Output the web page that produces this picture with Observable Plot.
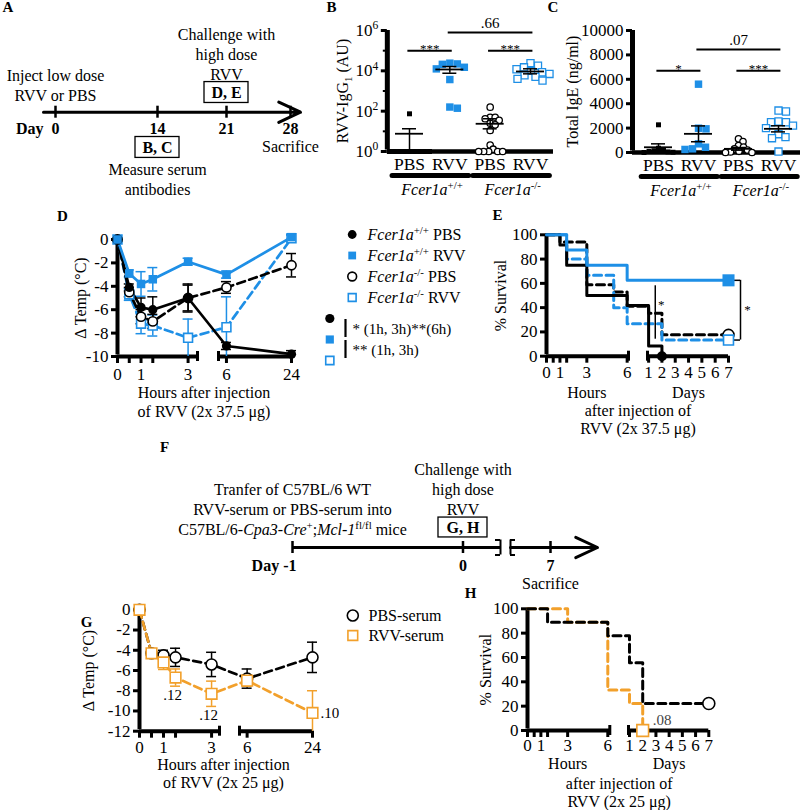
<!DOCTYPE html>
<html>
<head>
<meta charset="utf-8">
<script src="https://cdn.jsdelivr.net/npm/d3@7"></script>
<script src="https://cdn.jsdelivr.net/npm/@observablehq/plot@0.6"></script>
<style>
  html, body { margin: 0; padding: 0; background: #ffffff; }
  #fig { position: relative; width: 800px; height: 810px; overflow: hidden; background: #ffffff; }
</style>
</head>
<body>
<div id="fig"></div>
<script>
// ======================= DATA =======================
// A: experimental timeline (days)
const timelineADays = [0, 14, 21, 28];
const timelineANotes = [
  {day: 0, row: 1.36, text: "Inject low dose\nRVV or PBS"},
  {day: 21, row: 2.86, text: "Challenge with\nhigh dose\nRVV"},
  {day: 14, row: -3.25, text: "Measure serum\nantibodies"},
  {day: 28, row: -1.62, text: "Sacrifice"}
];
const timelineABoxes = [
  {day: 21, row: 0.96, text: "D, E"},
  {day: 14, row: -1.72, text: "B, C"}
];

// B, C: categories
const categories = ["PBS", "RVV", "PBS", "RVV"];
const genotypes = [
  {label: "~{Fcer1a}^{+/+}", from: 0, to: 1},
  {label: "~{Fcer1a}^{-/-}", from: 2, to: 3}
];
// B: RVV-IgG1 (AU)
const igg1WtPBS = [74, 1, 1, 1, 1, 1, 1, 1, 1, 1];
const igg1WtRVV = [24000, 22000, 21000, 15000, 12500, 3700, 160, 140];
const igg1KoPBS = [158, 50, 50, 42, 35, 25, 21, 11, 2.1, 1.3, 1, 1, 1, 1, 1];
const igg1KoRVV = [24000, 18000, 15000, 12000, 10000, 8500, 7000, 6000, 5000, 4000, 3300];
const igg1Mean = [7.6, 11700, 23.7, 9300];
const igg1Low = [1, 7600, 13.3, 7100];
const igg1High = [13.4, 16300, 42, 12600];
const igg1Tests = [
  {from: 0, to: 1, at: 1e5, label: "***"},
  {from: 2, to: 3, at: 1e5, label: "***"},
  {from: 1, to: 3, at: 8e5, label: ".66"}
];
const igg1Ticks = [1, 1e2, 1e4, 1e6];
const igg1MinorTicks = [1e1, 1e3, 1e5];

// C: Total IgE (ng/ml)
const igeWtPBS = [2270, 350, 250, 150, 100, 50, 20, 0];
const igeWtRVV = [5600, 1990, 1940, 710, 430, 300, 250];
const igeKoPBS = [1120, 900, 570, 450, 300, 200, 100, 50, 0, 0];
const igeKoRVV = [3440, 3360, 2540, 2480, 2480, 2200, 2000, 1500, 1260, 1170, 80];
const igeMean = [430, 1530, 300, 1940];
const igeSem = [280, 650, 110, 250];
const igeTests = [
  {from: 0, to: 1, at: 6700, label: "*"},
  {from: 2, to: 3, at: 6700, label: "***"},
  {from: 1, to: 3, at: 8450, label: ".07"}
];
const igeTicks = [0, 2000, 4000, 6000, 8000, 10000];

// D: temperature change (°C)
const hoursD = [0, 0.5, 1, 1.5, 3, 6, 24];
const tempWtPBS = [0, -4.1, -5.8, -6.0, -5.0, -9.1, -9.8];
const semWtPBS = [0, 0.3, 0.8, 1.1, 1.2, 0.3, 0.3];
const tempWtRVV = [0, -2.9, -3.8, -3.4, -1.9, -3.0, 0.2];
const semWtRVV = [0, 0.3, 1.05, 1.0, 0.3, 0.3, 0.2];
const tempKoPBS = [0, -4.5, -6.6, -7.0, -5.0, -4.1, -2.2];
const semKoPBS = [0, 0.4, 0.6, 0.6, 1.1, 0.5, 1.0];
const tempKoRVV = [0, -4.7, -7.2, -7.35, -8.4, -7.5, 0.1];
const semKoRVV = [0, 0.5, 0.85, 0.9, 1.6, 2.6, 0.3];
const hourTicks = [0, 0.5, 1, 1.5, 3, 6, 24];
const hourLabels = [0, 1, 3, 6, 24];
const tempTicksD = [0, -2, -4, -6, -8, -10];
const legendD = [
  {key: "wtPBS", label: "~{Fcer1a}^{+/+} PBS"},
  {key: "wtRVV", label: "~{Fcer1a}^{+/+} RVV"},
  {key: "koPBS", label: "~{Fcer1a}^{-/-} PBS"},
  {key: "koRVV", label: "~{Fcer1a}^{-/-} RVV"}
];
const comparisonsD = [
  {a: "wtPBS", b: "wtRVV", label: "* (1h, 3h)**(6h)"},
  {a: "wtRVV", b: "koRVV", label: "** (1h, 3h)"}
];

// E: survival (%, time in hours)
const survWtPBS = [[0, 100], [1, 91.7], [1.5, 75], [3, 50], [6, 41.7], [24, 8.3], [48, 0]];
const survWtRVV = [[0, 100], [1.5, 87.5], [3, 75], [6, 62.5], [168, 62.5]];
const survKoPBS = [[0, 100], [1, 94.1], [3, 58.8], [5, 52.9], [6, 41.2], [24, 35.3], [48, 17.6], [168, 17.6]];
const survKoRVV = [[0, 100], [1.5, 80], [3, 66.7], [5, 40], [6, 26.7], [48, 13.3], [168, 13.3]];
const survTestsE = [{t: 36, s1: 58, s2: 14, label: "*"}];
const survBracketE = [{t: 168, s1: 62.5, s2: 13.3, label: "*"}];
const survHourTicks = [0, 0.5, 1, 1.5, 3, 6];
const survHourLabels = [0, 1, 3, 6];
const survDayTicks = [1, 2, 3, 4, 5, 6, 7];
const survTicks = [0, 20, 40, 60, 80, 100];

// F: serum transfer timeline
const timelineFDays = [-1, 0, 7];
const timelineFNotes = [
  {day: -1, row: 1.92, text: "Tranfer of C57BL/6 WT\nRVV-serum or PBS-serum into\nC57BL/6-~{Cpa3-Cre}^{+};~{Mcl-1}^{fl/fl} mice"},
  {day: 0, row: 2.92, text: "Challenge with\nhigh dose\nRVV"},
  {day: 7, row: -1.72, text: "Sacrifice"}
];
const timelineFBoxes = [{day: 0, row: 0.985, text: "G, H"}];

// G: temperature after serum transfer
const hoursG = [0, 0.5, 1, 1.5, 3, 6, 24];
const tempPbsSerum = [0, -4.3, -4.5, -4.7, -5.4, -6.8, -4.7];
const semPbsSerum = [0, 0.3, 0.5, 0.9, 1.2, 0.95, 1.5];
const tempRvvSerum = [0, -4.3, -5.2, -6.7, -8.3, -7.0, -10.2];
const semRvvSerum = [0, 0.4, 0.7, 0.85, 1.25, 0.55, 2.2];
const tempTicksG = [0, -2, -4, -6, -8, -10, -12];
const pValuesG = [
  {h: 1.5, label: ".12", place: "below"},
  {h: 3, label: ".12", place: "below"},
  {h: 24, label: ".10", place: "right"}
];
const legendG = [
  {key: "pbsSerum", label: "PBS-serum"},
  {key: "rvvSerum", label: "RVV-serum"}
];

// H: survival after serum transfer
const survPbsSerum = [[0, 100], [1.5, 88.9], [6, 77.8], [24, 55.6], [48, 22.2], [168, 22.2]];
const survRvvSerum = [[0, 100], [3, 88.9], [6, 33.3], [24, 22.2], [48, 0]];
const pValuesH = [{key: "rvvSerum", label: ".08"}];

// ======================= STYLE =======================
const FONT = "'Liberation Serif', 'Times New Roman', Times, serif";
const BLUE = "#1e8fe6";
const ORANGE = "#f2a02b";
const DASH = "8,4.5";
const seriesStyle = {
  wtPBS: {color: "black", symbol: "circle", filled: true, dash: null},
  wtRVV: {color: BLUE, symbol: "square", filled: true, dash: null},
  koPBS: {color: "black", symbol: "circle", filled: false, dash: DASH},
  koRVV: {color: BLUE, symbol: "square", filled: false, dash: DASH},
  pbsSerum: {color: "black", symbol: "circle", filled: false, dash: DASH},
  rvvSerum: {color: ORANGE, symbol: "square", filled: false, dash: DASH}
};
function dotStyle(key, r) {
  const s = seriesStyle[key];
  return s.filled
    ? {symbol: s.symbol, r, fill: s.color, stroke: "none"}
    : {symbol: s.symbol, r, fill: "white", stroke: s.color, strokeWidth: 1.6};
}
const groupDotBC = [
  {dot: {symbol: "square", r: 2.8, fill: "black", stroke: "none"}, gap: 5},
  {dot: {symbol: "square", r: 4.2, fill: BLUE, stroke: "none"}, gap: 7.5},
  {dot: {symbol: "circle", r: 3.2, fill: "white", stroke: "black", strokeWidth: 1.3}, gap: 5},
  {dot: {symbol: "square", r: 4.0, fill: "white", stroke: BLUE, strokeWidth: 1.3}, gap: 7.5}
];

// ======================= HELPERS =======================
const fig = document.getElementById("fig");
const SVGNS = "http://www.w3.org/2000/svg";

// ~{..} italic, ^{..} superscript, _{..} subscript
function richify(root) {
  root.querySelectorAll("text, tspan").forEach(el => {
    if (el.childNodes.length !== 1 || el.firstChild.nodeType !== 3) return;
    const s = el.textContent;
    if (!/[~^_]\{/.test(s)) return;
    const fs = parseFloat(getComputedStyle(el).fontSize) || 16;
    const rise = fs * 0.38;
    el.textContent = "";
    let pending = 0;
    const pieces = [];
    const re = /([~^_])\{([^}]*)\}/g;
    let last = 0, m;
    while ((m = re.exec(s))) { pieces.push([s.slice(last, m.index), ""], [m[2], m[1]]); last = re.lastIndex; }
    pieces.push([s.slice(last), ""]);
    pieces.filter(p => p[0]).forEach(([txt, kind]) => {
      const t = document.createElementNS(SVGNS, "tspan");
      t.textContent = txt;
      let dy = pending; pending = 0;
      if (kind === "~") t.setAttribute("font-style", "italic");
      if (kind === "^" || kind === "_") {
        t.setAttribute("font-size", (fs * 0.68).toFixed(1) + "px");
        const d = kind === "^" ? -rise : rise * 0.6;
        dy += d; pending = -d;
      }
      if (dy) t.setAttribute("dy", dy.toFixed(2));
      el.appendChild(t);
    });
  });
}

function panel(box, {x, y, marks}) {
  const [left, top, width, height] = box;
  const opts = {
    width, height, margin: 0, marks,
    style: {background: "transparent", fontFamily: FONT, fontSize: "16px", color: "black", overflow: "visible"}
  };
  if (x) opts.x = {...x, range: x.range.map(v => v - left), axis: null};
  if (y) opts.y = {...y, range: y.range.map(v => v - top), axis: null};
  const svg = Plot.plot(opts);
  svg.style.position = "absolute";
  svg.style.left = left + "px";
  svg.style.top = top + "px";
  fig.appendChild(svg);
  richify(svg);
  return svg;
}

// broken (piecewise) axis: data value -> axis position, then a linear Plot scale
function broken(breaks, positions) {
  const warp = d3.scaleLinear().domain(breaks).range(positions);
  const ext = [positions[0], positions[positions.length - 1]];
  return {warp, breaks, scale: {type: "linear", domain: ext, range: ext}};
}

const letterMark = (s, dx, dy) => Plot.text([s], {
  frameAnchor: "top-left", dx, dy, textAnchor: "middle", lineAnchor: "middle",
  fontWeight: "bold", fontSize: 15
});

function swarm(values, idx, yPx, unit, gap) {
  const pts = values.map(v => ({v, py: yPx(v), off: 0}));
  const order = pts.slice().sort((a, b) => a.py - b.py);
  const placed = [];
  for (const p of order) {
    for (let k = 0; k < 400; k++) {
      const off = (k % 2 ? 1 : -1) * Math.ceil(k / 2) * 0.5;
      if (placed.every(q => (q.off - off) ** 2 + (q.py - p.py) ** 2 >= gap * gap)) { p.off = off; break; }
    }
    placed.push(p);
  }
  return pts.map(p => ({x: idx + p.off / unit, v: p.v}));
}

// "]" (closing, hooks to the left) or "[" (opening, hooks to the right)
function bracketMarks(W, at, kind) {
  const hook = kind === "close" ? {insetLeft: -5} : {insetRight: -5};
  return [
    Plot.ruleX([at], {x: d => W(d), y1: 0, y2: 0, insetTop: -7.5, insetBottom: -7.5, strokeWidth: 2}),
    Plot.ruleY([at], {x1: d => W(d), x2: d => W(d), y: 0, dy: -7.5, strokeWidth: 2, ...hook}),
    Plot.ruleY([at], {x1: d => W(d), x2: d => W(d), y: 0, dy: 7.5, strokeWidth: 2, ...hook})
  ];
}

// ---------- dot plot (B, C) ----------
function dotPanel(cfg) {
  const {box, X, Y, ext, groups, stats, tests, ticks, minor, tickText, yLabel, yMid, yLabelDx, letter} = cfg;
  const yPx = (Y.type === "log" ? d3.scaleLog() : d3.scaleLinear()).domain(Y.domain).range(Y.range);
  const unit = (X.range[1] - X.range[0]) / (X.domain[1] - X.domain[0]);
  const y0 = Y.domain[0];
  const pts = groups.map((vals, i) => swarm(vals, i, yPx, unit, groupDotBC[i].gap));
  return panel(box, {x: X, y: Y, marks: [
    Plot.ruleX([ext[0]], {x: d => d, y1: Y.domain[0], y2: Y.domain[1], insetTop: -1.5, strokeWidth: 5}),
    Plot.ruleY(ticks, {y: d => d, x1: ext[0], x2: ext[0], insetLeft: -6, strokeWidth: 3}),
    Plot.ruleY(minor, {y: d => d, x1: ext[0], x2: ext[0], insetLeft: -4, strokeWidth: 2}),
    Plot.text(ticks, {y: d => d, x: ext[0], text: tickText, dx: -9, textAnchor: "end", fontSize: 17}),
    Plot.text([yLabel], {x: ext[0], y: yMid, dx: yLabelDx, rotate: -90, fontSize: 16}),
    Plot.ruleY([y0], {y: d => d, x1: ext[0], x2: ext[1], strokeWidth: 4.5}),
    Plot.text(categories, {x: (d, i) => i, y: y0, dy: 12.5, fontSize: 17.5}),
    Plot.ruleY(genotypes, {x1: d => d.from - 0.42, x2: d => d.to + 0.48, y: y0, dy: 24, strokeWidth: 5, strokeLinecap: "round"}),
    Plot.text(genotypes, {x: d => (d.from + d.to) / 2 + 0.06, y: y0, dy: 38, text: "label", fontSize: 16}),
    ...pts.map((p, i) => Plot.dot(p, {x: "x", y: "v", ...groupDotBC[i].dot})),
    Plot.ruleX(stats, {x: "i", y1: "lo", y2: "hi", strokeWidth: 1.5}),
    Plot.ruleY(stats, {x1: "i", x2: "i", y: "hi", insetLeft: -7, insetRight: -7, strokeWidth: 1.5}),
    Plot.ruleY(stats, {x1: "i", x2: "i", y: "lo", insetLeft: -7, insetRight: -7, strokeWidth: 1.5}),
    Plot.ruleY(stats, {x1: "i", x2: "i", y: "mean", insetLeft: -14, insetRight: -14, strokeWidth: 1.8}),
    Plot.ruleY(tests, {x1: d => d.from - 0.04, x2: d => d.to + 0.06, y: "at", strokeWidth: 2}),
    Plot.text(tests.filter(d => d.label.startsWith("*")), {x: d => (d.from + d.to) / 2, y: "at", text: "label", dy: -2, fontSize: 13}),
    Plot.text(tests.filter(d => !d.label.startsWith("*")), {x: d => (d.from + d.to) / 2, y: "at", text: "label", dy: -9, fontSize: 15}),
    letterMark(...letter)
  ]});
}

// ---------- temperature line chart (D, G) ----------
function tempPanel(cfg) {
  const {box, axis, Y, hours, series, tempTicks, tickDy, yLabelDx, xLabel, xLabelDx, xLabelDy, letter, extra = []} = cfg;
  const W = axis.warp, dom = axis.breaks;
  const x0 = dom[0], y0 = Y.domain[0], yTop = Y.domain[1];
  const segs = [[dom[0], dom[1]], [dom[2], dom[3]]];
  const rowsOf = s => hours.map((h, i) => ({h, v: s.v[i], e: s.e[i]}));
  const xh = r => W(r.h);
  const marks = [
    Plot.ruleY(segs, {x1: d => W(d[0]), x2: d => W(d[1]), y: y0, strokeWidth: 4}),
    Plot.ruleX([dom[1], dom[2]], {x: d => W(d), y1: y0, y2: y0, insetTop: -5, insetBottom: -5, strokeWidth: 3}),
    Plot.ruleX(hourTicks, {x: d => W(d), y1: y0, y2: y0, insetBottom: -7, strokeWidth: 3}),
    Plot.text(hourLabels, {x: d => W(d), y: y0, dy: tickDy, text: d => String(d), fontSize: 17}),
    Plot.ruleX([x0], {x: d => W(d), y1: y0, y2: yTop, insetTop: -1.5, strokeWidth: 4}),
    Plot.ruleY(tempTicks, {y: d => d, x1: W(x0), x2: W(x0), insetLeft: -6, strokeWidth: 3}),
    Plot.text(tempTicks, {y: d => d, x: W(x0), dx: -9, textAnchor: "end", text: d => String(d), fontSize: 17}),
    Plot.text(["Δ Temp (°C)"], {x: W(x0), y: (y0 + yTop) / 2, dx: yLabelDx, rotate: -90, fontSize: 16}),
    Plot.text([xLabel], {x: (W(dom[1]) + W(dom[2])) / 2, y: y0, dx: xLabelDx, dy: xLabelDy, lineHeight: 1.15, fontSize: 16}),
    letterMark(...letter)
  ];
  for (const s of series) {
    const st = seriesStyle[s.key];
    const rows = rowsOf(s).filter(r => r.e > 0);
    const lo = r => Math.max(r.v - r.e, y0);
    marks.push(
      Plot.ruleX(rows, {x: xh, y1: lo, y2: r => r.v + r.e, stroke: st.color, strokeWidth: 1.5}),
      Plot.ruleY(rows, {x1: xh, x2: xh, y: r => r.v + r.e, insetLeft: -5, insetRight: -5, stroke: st.color, strokeWidth: 1.5}),
      Plot.ruleY(rows.filter(r => r.v - r.e > y0), {x1: xh, x2: xh, y: lo, insetLeft: -5, insetRight: -5, stroke: st.color, strokeWidth: 1.5})
    );
  }
  for (const s of series) {
    const st = seriesStyle[s.key];
    marks.push(Plot.line(rowsOf(s), {x: xh, y: "v", stroke: st.color, strokeWidth: 2.7, strokeDasharray: st.dash}));
  }
  for (const s of series) marks.push(Plot.dot(rowsOf(s), {x: xh, y: "v", ...dotStyle(s.key, s.r)}));
  marks.push(...extra);
  return panel(box, {x: axis.scale, y: Y, marks});
}

// ---------- survival chart (E, H) ----------
function survPanel(cfg) {
  const {box, axis, Y, series, tickDy, unitDy, blockText, blockDy, yLabelDx, letter, extra = []} = cfg;
  const W = axis.warp, dom = axis.breaks;
  const t0 = dom[0], s0 = Y.domain[0], sTop = Y.domain[1];
  const segs = [[dom[0], dom[1]], [dom[2], dom[3]]];
  const dayHours = survDayTicks.map(d => d * 24);
  const hoursMid = (survHourLabels[0] + survHourLabels[survHourLabels.length - 1]) / 2;
  const daysMid = (dayHours[0] + dayHours[dayHours.length - 1]) / 2;
  const marks = [
    Plot.ruleY(segs, {x1: d => W(d[0]), x2: d => W(d[1]), y: s0, strokeWidth: 4}),
    Plot.ruleX([dom[1], dom[2]], {x: d => W(d), y1: s0, y2: s0, insetTop: -5, insetBottom: -5, strokeWidth: 3}),
    Plot.ruleX([...survHourTicks, ...dayHours], {x: d => W(d), y1: s0, y2: s0, insetBottom: -7, strokeWidth: 3}),
    Plot.text(survHourLabels, {x: d => W(d), y: s0, dy: tickDy, text: d => String(d), fontSize: 17}),
    Plot.text(survDayTicks, {x: d => W(d * 24), y: s0, dy: tickDy, text: d => String(d), fontSize: 17}),
    Plot.text(["Hours"], {x: W(hoursMid), y: s0, dy: unitDy, fontSize: 16}),
    Plot.text(["Days"], {x: W(daysMid), y: s0, dy: unitDy, fontSize: 16}),
    Plot.text([blockText], {x: (W(dom[1]) + W(dom[2])) / 2, y: s0, dy: blockDy, lineHeight: 1.12, fontSize: 16}),
    Plot.ruleX([t0], {x: d => W(d), y1: s0, y2: sTop, insetTop: -1.5, strokeWidth: 4}),
    Plot.ruleY(survTicks, {y: d => d, x1: W(t0), x2: W(t0), insetLeft: -6, strokeWidth: 3}),
    Plot.text(survTicks, {y: d => d, x: W(t0), dx: -9, textAnchor: "end", text: d => String(d), fontSize: 17}),
    Plot.text(["% Survival"], {x: W(t0), y: (s0 + sTop) / 2, dx: yLabelDx, rotate: -90, fontSize: 16}),
    letterMark(...letter)
  ];
  const rowsOf = s => s.steps.map(([t, v]) => ({t, v}));
  const xt = r => W(r.t);
  for (const s of series) {
    const st = seriesStyle[s.key];
    marks.push(Plot.line(rowsOf(s), {x: xt, y: "v", curve: "step-after", stroke: st.color, strokeWidth: 3, strokeDasharray: st.dash}));
  }
  marks.push(...extra);
  for (const s of series) {
    const rows = rowsOf(s);
    marks.push(Plot.dot([rows[rows.length - 1]], {x: xt, y: "v", ...dotStyle(s.key, s.r)}));
  }
  return panel(box, {x: axis.scale, y: Y, marks});
}

// ======================= PANELS =======================
// A
{
  const ax = broken(timelineADays, [55, 157, 226, 290]);
  const W = ax.warp;
  panel([0, 0, 310, 200], {
    x: ax.scale,
    y: {domain: [-4, 5], range: [193.7, 9.2]},
    marks: [
      Plot.arrow([0], {x1: W(-1.65), x2: W(29.1), y1: 0, y2: 0, strokeWidth: 3, headLength: 12, headAngle: 50}),
      Plot.ruleX(timelineADays, {x: d => W(d), y1: 0, y2: 0, insetTop: -6, insetBottom: -6, strokeWidth: 2.5}),
      Plot.text(timelineADays, {x: d => W(d), y: -0.81, text: d => String(d), fontWeight: "bold"}),
      Plot.text(["Day"], {x: W(timelineADays[0]), y: -0.81, dx: -12, textAnchor: "end", fontWeight: "bold"}),
      Plot.text(timelineANotes, {x: d => W(d.day), y: "row", text: "text", lineHeight: 1.27}),
      Plot.rect(timelineABoxes, {x1: d => W(d.day), x2: d => W(d.day), y1: d => d.row - 0.51, y2: d => d.row + 0.51, insetLeft: -22, insetRight: -22, fill: "white", stroke: "black", strokeWidth: 1.3}),
      Plot.text(timelineABoxes, {x: d => W(d.day), y: "row", text: "text", fontWeight: "bold"}),
      letterMark("A", 7.5, 7)
    ]
  });
}

// B
dotPanel({
  box: [325, 0, 235, 200],
  X: {domain: [0, 3], range: [409, 530]},
  Y: {type: "log", domain: [1, 1e6], range: [151, 30]},
  ext: [-0.55, 3.57],
  groups: [igg1WtPBS, igg1WtRVV, igg1KoPBS, igg1KoRVV],
  stats: igg1Mean.map((m, i) => ({i, mean: m, lo: igg1Low[i], hi: igg1High[i]})),
  tests: igg1Tests,
  ticks: igg1Ticks, minor: igg1MinorTicks,
  tickText: d => `10^{${Math.round(Math.log10(d))}}`,
  yLabel: "RVV-IgG_{1} (AU)", yMid: 1e3, yLabelDx: -44,
  letter: ["B", 6, 7]
});

// C
dotPanel({
  box: [540, 0, 260, 200],
  X: {domain: [0, 3], range: [658, 778]},
  Y: {type: "linear", domain: [0, 10000], range: [152, 30]},
  ext: [-0.65, 3.6],
  groups: [igeWtPBS, igeWtRVV, igeKoPBS, igeKoRVV],
  stats: igeMean.map((m, i) => ({i, mean: m, lo: Math.max(0, m - igeSem[i]), hi: m + igeSem[i]})),
  tests: igeTests,
  ticks: igeTicks, minor: [],
  tickText: d => String(d),
  yLabel: "Total IgE (ng/ml)", yMid: 5000, yLabelDx: -60,
  letter: ["C", 12.5, 7]
});

// D
tempPanel({
  box: [55, 200, 250, 225],
  axis: broken([0, 3.4, 3.8, 24], [117, 197, 218, 291]),
  Y: {domain: [-10, 0], range: [356, 239]},
  hours: hoursD,
  series: [
    {key: "koRVV", v: tempKoRVV, e: semKoRVV, r: 5},
    {key: "koPBS", v: tempKoPBS, e: semKoPBS, r: 4.6},
    {key: "wtPBS", v: tempWtPBS, e: semWtPBS, r: 4.6},
    {key: "wtRVV", v: tempWtRVV, e: semWtRVV, r: 4.8}
  ],
  tempTicks: tempTicksD, tickDy: 18, yLabelDx: -37,
  xLabel: "Hours after injection\nof RVV (2x 37.5 μg)", xLabelDx: -4, xLabelDy: 45,
  letter: ["D", 7, 16]
});

// D legend
{
  const sigKeys = Array.from(new Set(comparisonsD.flatMap(d => [d.a, d.b])));
  const box = [320, 215, 170, 160];
  panel(box, {
    y: {type: "point", domain: [...legendD.map(d => d.key), ...sigKeys.map(k => "s:" + k)], range: [231.7, 361.7], padding: 0},
    marks: [
      ...legendD.map(d => Plot.dot([d], {y: "key", frameAnchor: "left", dx: 31.7, ...dotStyle(d.key, 4.4)})),
      Plot.text(legendD, {y: "key", text: "label", frameAnchor: "left", dx: 47, textAnchor: "start", fontSize: 16}),
      ...sigKeys.map(k => Plot.dot([k], {y: d => "s:" + d, frameAnchor: "left", dx: 9.3, ...dotStyle(k, 4.6)})),
      Plot.ruleX(comparisonsD, {x: null, y1: d => "s:" + d.a, y2: d => "s:" + d.b, insetTop: 1, insetBottom: 2, dx: 25 - box[2] / 2, strokeWidth: 2.2}),
      Plot.text(comparisonsD, {y: d => "s:" + d.a, text: "label", frameAnchor: "left", dx: 32, dy: 11, textAnchor: "start", fontSize: 15})
    ]
  });
}

// E
{
  const ax = broken([0, 6.1, 22, 168], [546, 628, 647, 728]);
  const W = ax.warp;
  survPanel({
    box: [488, 200, 305, 240],
    axis: ax,
    Y: {domain: [0, 100], range: [355.7, 234.3]},
    series: [
      {key: "koPBS", steps: survKoPBS, r: 5.5},
      {key: "koRVV", steps: survKoRVV, r: 5.6},
      {key: "wtPBS", steps: survWtPBS, r: 5},
      {key: "wtRVV", steps: survWtRVV, r: 6.8}
    ],
    tickDy: 16.5, unitDy: 36.5, blockText: "after injection of\nRVV (2x 37.5 μg)", blockDy: 63,
    yLabelDx: -46, letter: ["E", 9, 15],
    extra: [
      Plot.ruleX(survTestsE, {x: d => W(d.t), y1: "s1", y2: "s2", strokeWidth: 1.5}),
      Plot.text(survTestsE, {x: d => W(d.t), y: d => (d.s1 + d.s2) / 2, text: "label", dx: 6, dy: -8, fontSize: 13}),
      Plot.ruleX(survBracketE, {x: d => W(d.t), y1: "s1", y2: "s2", dx: 12, strokeWidth: 1.5}),
      Plot.ruleY(survBracketE, {x1: d => W(d.t), x2: d => W(d.t), y: "s1", insetLeft: 3, insetRight: -12, strokeWidth: 1.5}),
      Plot.ruleY(survBracketE, {x1: d => W(d.t), x2: d => W(d.t), y: "s2", insetLeft: 3, insetRight: -12, strokeWidth: 1.5}),
      Plot.text(survBracketE, {x: d => W(d.t), y: d => (d.s1 + d.s2) / 2, text: "label", dx: 19, dy: 0, fontSize: 13})
    ]
  });
}

// F
{
  const ax = broken([-1, 0.22, 5, 7], [292, 500, 510, 550]);
  const W = ax.warp;
  panel([150, 430, 460, 165], {
    x: ax.scale,
    y: {domain: [-2, 5], range: [587.6, 445.5]},
    marks: [
      Plot.ruleY([0], {y: d => d, x1: W(timelineFDays[0]), x2: W(0.22), strokeWidth: 3}),
      Plot.arrow([0], {x1: W(5), x2: W(9.35), y1: 0, y2: 0, strokeWidth: 3, headLength: 12, headAngle: 50}),
      ...bracketMarks(W, 0.22, "close"),
      ...bracketMarks(W, 5, "open"),
      Plot.ruleX(timelineFDays, {x: d => W(d), y1: 0, y2: 0, insetTop: -6, insetBottom: -6, strokeWidth: 2.5}),
      Plot.text([timelineFDays[0]], {x: d => W(d), y: -0.89, text: d => "Day " + d, textAnchor: "end", dx: 4, fontWeight: "bold"}),
      Plot.text(timelineFDays.slice(1), {x: d => W(d), y: -0.89, text: d => String(d), fontWeight: "bold"}),
      Plot.text(timelineFNotes, {x: d => W(d.day), y: "row", text: "text", lineHeight: 1.25}),
      Plot.rect(timelineFBoxes, {x1: d => W(d.day), x2: d => W(d.day), y1: d => d.row - 0.49, y2: d => d.row + 0.49, insetLeft: -24.5, insetRight: -24.5, fill: "white", stroke: "black", strokeWidth: 1.3}),
      Plot.text(timelineFBoxes, {x: d => W(d.day), y: "row", text: "text", fontWeight: "bold"}),
      letterMark("F", 14, 17)
    ]
  });
}

// G
{
  const ax = broken([0, 3.33, 3.9, 24], [139, 219, 239, 312]);
  const W = ax.warp;
  const rvvRows = hoursG.map((h, i) => ({h, v: tempRvvSerum[i], e: semRvvSerum[i]}));
  const pRows = pValuesG.map(p => ({...p, ...rvvRows.find(r => r.h === p.h)}));
  tempPanel({
    box: [75, 595, 270, 215],
    axis: ax,
    Y: {domain: [-12, 0], range: [730.7, 609.3]},
    hours: hoursG,
    series: [
      {key: "pbsSerum", v: tempPbsSerum, e: semPbsSerum, r: 5.5},
      {key: "rvvSerum", v: tempRvvSerum, e: semRvvSerum, r: 6}
    ],
    tempTicks: tempTicksG, tickDy: 16, yLabelDx: -51,
    xLabel: "Hours after injection\nof RVV (2x 25 μg)", xLabelDx: -6, xLabelDy: 42,
    letter: ["G", 11, 27],
    extra: [
      Plot.text(pRows.filter(p => p.place === "below"), {x: d => W(d.h), y: d => d.v - d.e, text: "label", dx: -3, dy: 9, fontSize: 15}),
      Plot.text(pRows.filter(p => p.place === "right"), {x: d => W(d.h), y: "v", text: "label", dx: 8, textAnchor: "start", fontSize: 15})
    ]
  });
}

// G legend
panel([340, 600, 130, 50], {
  y: {type: "point", domain: legendG.map(d => d.key), range: [615, 635.7], padding: 0},
  marks: [
    ...legendG.map(d => Plot.dot([d], {y: "key", frameAnchor: "left", dx: 12.3, ...dotStyle(d.key, 5.5)})),
    Plot.text(legendG, {y: "key", text: "label", frameAnchor: "left", dx: 28, textAnchor: "start", fontSize: 16})
  ]
});

// H
{
  const ax = broken([0, 6.15, 22.2, 168], [527, 609.3, 628, 708.3]);
  const W = ax.warp;
  const ends = {pbsSerum: survPbsSerum, rvvSerum: survRvvSerum};
  const pRows = pValuesH.map(p => {
    const last = ends[p.key][ends[p.key].length - 1];
    return {...p, t: last[0], v: last[1]};
  });
  survPanel({
    box: [462, 585, 270, 225],
    axis: ax,
    Y: {domain: [0, 100], range: [730, 608.3]},
    series: [
      {key: "rvvSerum", steps: survRvvSerum, r: 6.6},
      {key: "pbsSerum", steps: survPbsSerum, r: 6}
    ],
    tickDy: 15.5, unitDy: 33, blockText: "after injection of\nRVV (2x 25 μg)", blockDy: 61.5,
    yLabelDx: -42, letter: ["H", 8, 8],
    extra: [
      Plot.text(pRows, {x: d => W(d.t), y: "v", text: "label", dx: 10, dy: -10, textAnchor: "start", fontSize: 15, fill: "#444"})
    ]
  });
}
</script>
</body>
</html>
